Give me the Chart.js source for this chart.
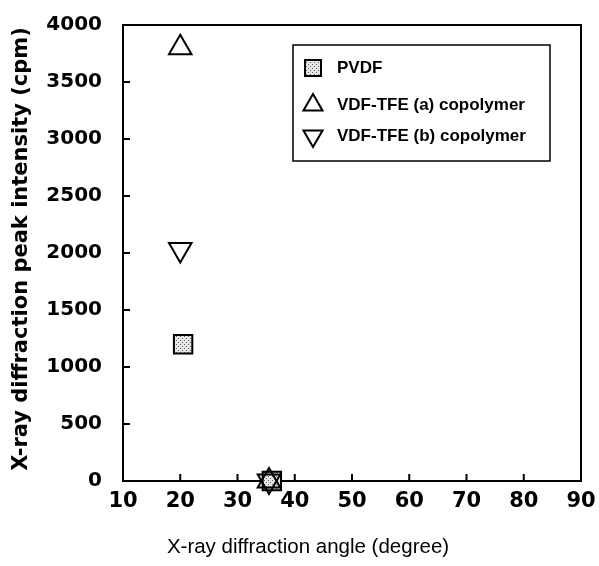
<!DOCTYPE html>
<html>
<head>
<meta charset="utf-8">
<script src="https://cdn.jsdelivr.net/npm/chart.js@4.4.1/dist/chart.umd.min.js"></script>
<style>
  html, body { margin: 0; padding: 0; background: #fff; }
  #wrap { width: 599px; height: 566px; }
</style>
</head>
<body>
<div id="wrap"><canvas id="xrd_chart"></canvas></div>
<script>
// data
const series_names = ["PVDF", "VDF-TFE (a) copolymer", "VDF-TFE (b) copolymer"];
const pvdf_x  = [20.5, 36];
const pvdf_y  = [1200, 0];
const vdf_a_x = [20, 35.5];
const vdf_a_y = [3800, 0];
const vdf_b_x = [20, 35.5];
const vdf_b_y = [2030, 0];

const x_ticks = [10, 20, 30, 40, 50, 60, 70, 80, 90];
const y_ticks = [0, 500, 1000, 1500, 2000, 2500, 3000, 3500, 4000];

const x_title = "X-ray diffraction angle (degree)";
const y_title = "X-ray diffraction peak intensity (cpm)";

function to_points(xs, ys){
    let pts = [];
    for (let i = 0; i < xs.length; i++){
        pts.push({x: xs[i], y: ys[i]});
    }
    return pts;
}

// stippled grey fill like the scanned square marker
function make_stipple(){
    const c = document.createElement("canvas");
    c.width = 4; c.height = 4;
    const g = c.getContext("2d");
    g.fillStyle = "#e6e6e6";
    g.fillRect(0, 0, 4, 4);
    g.fillStyle = "#666";
    g.fillRect(0, 0, 1, 1);
    g.fillRect(2, 2, 1, 1);
    return g.createPattern(c, "repeat");
}
const stipple = make_stipple();

function draw_marker(ctx, kind, x, y, r){
    ctx.beginPath();
    if (kind === "rect"){
        ctx.rect(x - r, y - r, 2 * r, 2 * r);
        ctx.fillStyle = stipple;
    } else if (kind === "up"){
        ctx.moveTo(x, y - r);
        ctx.lineTo(x + r * 0.866, y + r / 2);
        ctx.lineTo(x - r * 0.866, y + r / 2);
        ctx.closePath();
        ctx.fillStyle = "#fff";
    } else {
        ctx.moveTo(x, y + r);
        ctx.lineTo(x + r * 0.866, y - r / 2);
        ctx.lineTo(x - r * 0.866, y - r / 2);
        ctx.closePath();
        ctx.fillStyle = "#fff";
    }
    ctx.fill();
    ctx.lineWidth = 2;
    ctx.strokeStyle = "#000";
    ctx.stroke();
}

// frame, inward ticks, legend box and axis titles
const frame_plugin = {
    id: "frame_plugin",
    beforeDatasetsDraw(chart){
        const ctx = chart.ctx;
        const a = chart.chartArea;
        const xs = chart.scales.x;
        const ys = chart.scales.y;
        ctx.save();
        ctx.strokeStyle = "#000";
        ctx.lineWidth = 2;
        ctx.strokeRect(a.left, a.top, a.right - a.left, a.bottom - a.top);

        ctx.beginPath();
        for (let v of x_ticks.slice(1, -1)){
            const px = xs.getPixelForValue(v);
            ctx.moveTo(px, a.bottom);
            ctx.lineTo(px, a.bottom - 7);
        }
        for (let v of y_ticks.slice(1, -1)){
            const py = ys.getPixelForValue(v);
            ctx.moveTo(a.left, py);
            ctx.lineTo(a.left + 7, py);
        }
        ctx.stroke();

        // legend
        const lx = 293, ly = 45, lw = 257, lh = 116;
        ctx.fillStyle = "#fff";
        ctx.fillRect(lx, ly, lw, lh);
        ctx.lineWidth = 1.5;
        ctx.strokeRect(lx, ly, lw, lh);
        const kinds = ["rect", "up", "down"];
        const rows = [68, 105, 136];
        ctx.font = "bold 17px 'Liberation Sans'";
        ctx.textBaseline = "middle";
        ctx.textAlign = "left";
        for (let i = 0; i < series_names.length; i++){
            draw_marker(ctx, kinds[i], 313, rows[i], kinds[i] === "rect" ? 8 : 11);
            ctx.fillStyle = "#000";
            ctx.fillText(series_names[i], 337, rows[i]);
        }

        // titles
        ctx.fillStyle = "#000";
        ctx.textAlign = "center";
        ctx.font = "20.5px 'Liberation Sans'";
        ctx.fillText(x_title, 308, 547);
        ctx.translate(22, 249);
        ctx.rotate(-Math.PI / 2);
        ctx.font = "bold 21px 'DejaVu Sans'";
        ctx.fillText(y_title, 0, 0);
        ctx.restore();
    }
};

window.addEventListener("load", function (){
    const ctx = document.getElementById("xrd_chart").getContext("2d");
    const chart = new Chart(ctx, {
        type: "scatter",
        data: {
            datasets: [{
                label: series_names[0],
                data: to_points(pvdf_x, pvdf_y),
                pointStyle: "rect",
                pointRadius: 13,
                backgroundColor: stipple,
                borderColor: "#000",
                borderWidth: 2,
                clip: false,
                order: 1
            }, {
                label: series_names[1],
                data: to_points(vdf_a_x, vdf_a_y),
                pointStyle: "triangle",
                pointRadius: 13,
                backgroundColor: "rgba(255,255,255,0)",
                borderColor: "#000",
                borderWidth: 2,
                clip: false
            }, {
                label: series_names[2],
                data: to_points(vdf_b_x, vdf_b_y),
                pointStyle: "triangle",
                pointRotation: 180,
                pointRadius: 13,
                backgroundColor: "rgba(255,255,255,0)",
                borderColor: "#000",
                borderWidth: 2,
                clip: false
            }]
        },
        options: {
            responsive: true,
            maintainAspectRatio: false,
            animation: false,
            layout: { padding: { left: 0, top: 22, right: 18, bottom: 0 } },
            scales: {
                x: {
                    type: "linear",
                    min: 10,
                    max: 90,
                    afterBuildTicks: (s) => { s.ticks = x_ticks.map(v => ({value: v})); },
                    afterFit: (s) => { s.height = 85; },
                    grid: { display: false },
                    border: { display: false },
                    ticks: {
                        color: "#000", padding: 0,
                        callback: (v) => String(v),
                        font: { family: "DejaVu Sans", size: 21, weight: "bold" }
                    }
                },
                y: {
                    min: 0,
                    max: 4000,
                    afterBuildTicks: (s) => { s.ticks = y_ticks.map(v => ({value: v})); },
                    afterFit: (s) => { s.width = 123; },
                    grid: { display: false },
                    border: { display: false },
                    ticks: {
                        color: "#000", padding: 13,
                        callback: (v) => String(v),
                        font: { family: "DejaVu Sans", size: 20, weight: "bold" }
                    }
                }
            },
            plugins: {
                legend: { display: false },
                tooltip: { enabled: false }
            }
        },
        plugins: [frame_plugin]
    });
});
</script>
</body>
</html>
